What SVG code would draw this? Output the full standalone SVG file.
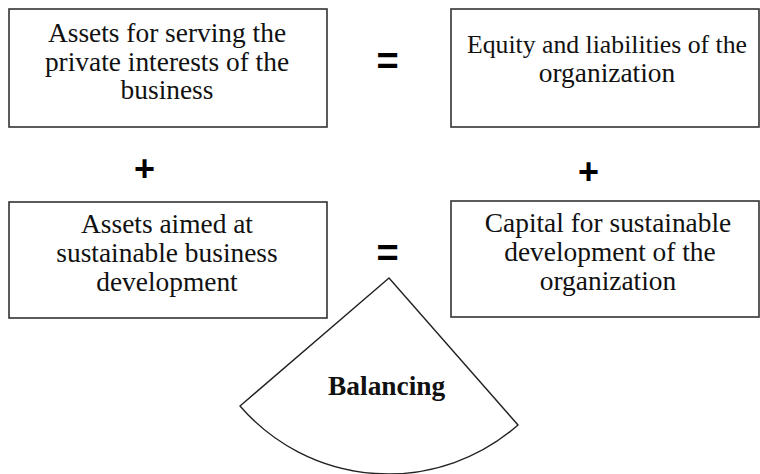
<svg xmlns="http://www.w3.org/2000/svg" width="760" height="474" viewBox="0 0 760 474">
<style>
.box{fill:#fff;stroke:#333;stroke-width:1.6}
.t{font-family:"Liberation Serif","Times New Roman",serif;font-size:27.4px;fill:#111;text-anchor:middle}
.b{font-weight:bold}
.op{font-family:"Liberation Sans",Arial,sans-serif;font-weight:bold;fill:#000;text-anchor:middle}
.sec{fill:#fff;stroke:#222;stroke-width:1.4;stroke-linejoin:miter}
</style>
<rect width="760" height="474" fill="#fff"/>
<g id="node-assets-private">
<rect class="box" x="9" y="9" width="318" height="118"/>
<text class="t" x="167" y="42">Assets for serving the</text>
<text class="t" x="167" y="70.5">private interests of the</text>
<text class="t" x="167" y="99">business</text>
</g>
<g id="node-equity">
<rect class="box" x="451" y="9" width="308" height="118"/>
<text class="t" x="607" y="53.3" style="font-size:26px" textLength="280" lengthAdjust="spacingAndGlyphs">Equity and liabilities of the</text>
<text class="t" x="607" y="82">organization</text>
</g>
<g id="node-assets-sustainable">
<rect class="box" x="9" y="202" width="318" height="116"/>
<text class="t" x="167" y="233">Assets aimed at</text>
<text class="t" x="167" y="262">sustainable business</text>
<text class="t" x="167" y="291">development</text>
</g>
<g id="node-capital">
<rect class="box" x="451" y="201" width="308" height="116"/>
<text class="t" x="608" y="231.7">Capital for sustainable</text>
<text class="t" x="610" y="260.7">development of the</text>
<text class="t" x="608" y="290">organization</text>
</g>
<g id="operators">
<text class="op" x="387.5" y="74" font-size="38">=</text>
<text class="op" x="387.5" y="265.5" font-size="38">=</text>
<text class="op" x="144.5" y="181" font-size="36">+</text>
<text class="op" x="588.5" y="183.5" font-size="36">+</text>
</g>
<g id="node-balancing">
<path class="sec" d="M389,278 L240,406 A196,196 0 0 0 518,425 Z"/>
<text class="t b" x="386.7" y="395">Balancing</text>
</g>
<g id="connectors"></g>
</svg>
